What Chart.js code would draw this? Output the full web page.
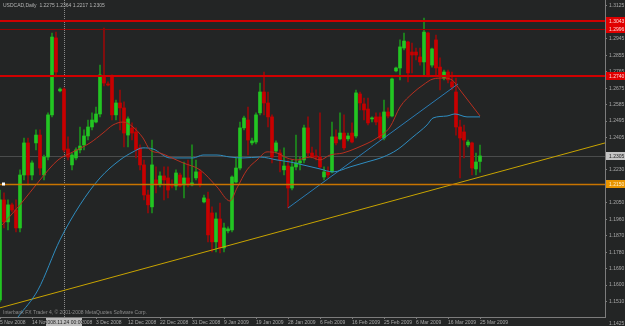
<!DOCTYPE html>
<html><head><meta charset="utf-8">
<script src="https://cdn.jsdelivr.net/npm/chart.js@4/dist/chart.umd.min.js"></script>
<style>html,body{margin:0;padding:0;background:#232525;overflow:hidden}canvas{display:block}</style>
</head><body>
<canvas id="c" width="625" height="326"></canvas>
<script>
const symbolTitle = 'USDCAD,Daily';
const copyrightText = 'Interbank FX Trader 4, \u00A9 2001-2008 MetaQuotes Software Corp.';

const opens = [1.1519,1.2065,1.1945,1.2038,1.2010,1.1912,1.2201,1.2376,1.2201,1.2376,
 1.2419,1.2201,1.2299,1.2529,1.2949,1.2660,1.2670,1.2343,1.2256,1.2294,
 1.2338,1.2365,1.2414,1.2463,1.2490,1.2534,1.2741,1.2698,1.2736,1.2529,
 1.2594,1.2567,1.2419,1.2458,1.2436,1.2349,1.2256,1.2092,1.2027,1.2174,
 1.2152,1.2196,1.2185,1.2147,1.2141,1.2201,1.2147,1.2185,1.2147,1.2185,
 1.2218,1.2054,1.2070,1.1994,1.1836,1.1961,1.1803,1.1896,1.1901,1.2163,
 1.2239,1.2458,1.2501,1.2376,1.2381,1.2540,1.2654,1.2594,1.2518,1.2332,
 1.2321,1.2229,1.2250,1.2130,1.2245,1.2267,1.2283,1.2458,1.2321,1.2305,
 1.2299,1.2190,1.2218,1.2218,1.2409,1.2398,1.2430,1.2398,1.2430,1.2414,
 1.2643,1.2589,1.2561,1.2507,1.2518,1.2518,1.2403,1.2545,1.2523,1.2769,
 1.2785,1.2894,1.2927,1.2872,1.2872,1.2845,1.2818,1.2976,1.2801,1.2938,
 1.2790,1.2730,1.2763,1.2709,1.2654,1.2463,1.2436,1.2365,1.2376,1.2234,
 1.2275];
const highs = [1.2119,1.2103,1.2065,1.2048,1.2065,1.2229,1.2403,1.2403,1.2278,1.2447,
 1.2447,1.2310,1.2540,1.2976,1.2981,1.2676,1.2676,1.2409,1.2321,1.2349,
 1.2463,1.2447,1.2501,1.2540,1.2572,1.2801,1.3003,1.2709,1.2747,1.2610,
 1.2665,1.2600,1.2518,1.2485,1.2458,1.2365,1.2283,1.2119,1.2392,1.2245,
 1.2218,1.2245,1.2245,1.2174,1.2229,1.2212,1.2272,1.2283,1.2365,1.2283,
 1.2229,1.2092,1.2108,1.2027,1.1994,1.2048,1.1939,1.1918,1.2196,1.2299,
 1.2490,1.2523,1.2572,1.2403,1.2540,1.2703,1.2763,1.2654,1.2529,1.2387,
 1.2338,1.2349,1.2283,1.2283,1.2419,1.2299,1.2474,1.2518,1.2354,1.2338,
 1.2540,1.2245,1.2245,1.2490,1.2447,1.2540,1.2529,1.2430,1.2485,1.2665,
 1.2654,1.2621,1.2621,1.2518,1.2540,1.2540,1.2610,1.2567,1.2730,1.2790,
 1.2938,1.2976,1.2932,1.2921,1.2894,1.2894,1.3058,1.2981,1.2894,1.2965,
 1.2840,1.2774,1.2774,1.2763,1.2730,1.2501,1.2474,1.2392,1.2381,1.2321,
 1.2364];
const lows = [1.1508,1.1912,1.1901,1.1999,1.1890,1.1890,1.2174,1.2147,1.2174,1.2338,
 1.2201,1.2174,1.2283,1.2518,1.2736,1.2654,1.2327,1.2283,1.2229,1.2283,
 1.2321,1.2338,1.2392,1.2447,1.2485,1.2518,1.2687,1.2687,1.2501,1.2501,
 1.2447,1.2354,1.2354,1.2392,1.2294,1.2229,1.2065,1.1994,1.1994,1.2103,
 1.2136,1.2065,1.2076,1.2130,1.2119,1.2136,1.2076,1.2136,1.2141,1.2174,
 1.2136,1.2048,1.1836,1.1781,1.1781,1.1776,1.1781,1.1885,1.1890,1.2158,
 1.2229,1.2447,1.2310,1.2365,1.2370,1.2529,1.2529,1.2463,1.2267,1.2321,
 1.2218,1.2201,1.2021,1.2119,1.2229,1.2229,1.2267,1.2299,1.2294,1.2283,
 1.2239,1.2174,1.2185,1.2212,1.2365,1.2392,1.2338,1.2387,1.2376,1.2403,
 1.2556,1.2501,1.2474,1.2490,1.2474,1.2392,1.2392,1.2512,1.2518,1.2763,
 1.2720,1.2883,1.2709,1.2758,1.2829,1.2801,1.2747,1.2736,1.2790,1.2736,
 1.2665,1.2720,1.2703,1.2665,1.2419,1.2185,1.2294,1.2354,1.2201,1.2201,
 1.2217];
const closes = [1.2065,1.1945,1.2038,1.2010,1.1912,1.2201,1.2376,1.2201,1.2267,1.2419,
 1.2239,1.2299,1.2529,1.2954,1.2763,1.2670,1.2338,1.2299,1.2310,1.2338,
 1.2359,1.2414,1.2463,1.2501,1.2534,1.2747,1.2703,1.2692,1.2529,1.2594,
 1.2567,1.2430,1.2507,1.2430,1.2338,1.2256,1.2092,1.2038,1.2256,1.2152,
 1.2196,1.2174,1.2119,1.2141,1.2212,1.2141,1.2185,1.2147,1.2158,1.2218,
 1.2147,1.2076,1.1874,1.1836,1.1961,1.1803,1.1912,1.1907,1.2190,1.2239,
 1.2458,1.2512,1.2392,1.2387,1.2529,1.2654,1.2594,1.2518,1.2299,1.2376,
 1.2283,1.2250,1.2130,1.2245,1.2267,1.2278,1.2458,1.2321,1.2299,1.2299,
 1.2245,1.2218,1.2201,1.2409,1.2376,1.2430,1.2349,1.2414,1.2381,1.2649,
 1.2594,1.2556,1.2485,1.2512,1.2490,1.2403,1.2545,1.2523,1.2725,1.2785,
 1.2900,1.2932,1.2758,1.2856,1.2856,1.2818,1.2981,1.2747,1.2889,1.2785,
 1.2747,1.2763,1.2720,1.2681,1.2463,1.2403,1.2392,1.2381,1.2239,1.2272,
 1.2305];

const redMaIdx = [0.5,5,10,14.5,18.25,22.5,25.75,28.25,30.75,33.25,35.75,37.5,40,42.5,45.75,50,54.25,57.5,59.25,61.75,64.25,66.75,69.25,71.75,74.25,77.5,80,82.5,85.75,89.25,94.25,97.5,100,103.25,105.75,108.25,110.75,113,115,117.5,120];
const redMaVals = [1.1928,1.2038,1.2174,1.2283,1.2327,1.2376,1.2430,1.2474,1.2490,1.2463,1.2403,1.2338,1.2321,1.2299,1.2267,1.2229,1.2136,1.2059,1.2130,1.2229,1.2283,1.2327,1.2321,1.2294,1.2283,1.2299,1.2283,1.2310,1.2321,1.2349,1.2403,1.2463,1.2572,1.2649,1.2692,1.2725,1.2730,1.2720,1.2665,1.2594,1.2523];
const blueMaIdx = [4.5,9.5,15,20,25,30,33.25,35.75,38.25,42.5,48.25,50.75,54.25,57.5,60.75,65,69.25,72.5,75.75,80,83.25,87.5,91.75,95.75,99.25,103.25,106.75,108.25,111.75,113.75,116.75,120];
const blueMaVals = [1.1426,1.1574,1.1847,1.2038,1.2185,1.2283,1.2327,1.2349,1.2343,1.2294,1.2294,1.2310,1.2310,1.2299,1.2294,1.2299,1.2283,1.2272,1.2256,1.2234,1.2218,1.2245,1.2272,1.2299,1.2338,1.2409,1.2474,1.2512,1.2523,1.2534,1.2518,1.2518];

const trendIdx = [0, 151.25];
const trendVals = [1.1476, 1.2376];
const blueTrendIdx = [72, 114.5];
const blueTrendVals = [1.2021, 1.2698];

const redLevels = [1.3043, 1.2996, 1.2740];
const supportLevel = 1.2150;

const xTickIdx = [0,8,16,24,32,40,48,56,64,72,80,88,96,104,112,120];
const xTickLabels = ['5 Nov 2008','14 Nov 2008','24 Nov 2008','3 Dec 2008','12 Dec 2008','22 Dec 2008','31 Dec 2008','9 Jan 2009','19 Jan 2009','28 Jan 2009','6 Feb 2009','16 Feb 2009','25 Feb 2009','6 Mar 2009','16 Mar 2009','25 Mar 2009'];
const yTickValues = [1.3125,1.2945,1.2855,1.2765,1.2675,1.2585,1.2495,1.2405,1.2230,1.2050,1.1960,1.1870,1.1780,1.1690,1.1600,1.1510];
const yTickLabels = ['1.3125','1.2945','1.2855','1.2765','1.2675','1.2585','1.2495','1.2405','1.2230','1.2050','1.1960','1.1870','1.1780','1.1690','1.1600','1.1510'];
const bottomPriceLabel = '1.1425';
const crosshairIdx = 16;
const crosshairLabel = '2008.11.24 00:00';

const FONT = '"Liberation Sans", Arial, sans-serif';
const n = opens.length;
const up = opens.map((o, i) => closes[i] >= o);
const wickData = opens.map((_, i) => ({x: i, y: [lows[i], highs[i]]}));
const bodyData = opens.map((_, i) => ({x: i, y: [opens[i], closes[i]]}));
const pts = (xs, ys) => xs.map((v, i) => ({x: v, y: ys[i]}));

const overlay = {
  id: 'overlay',
  beforeDatasetsDraw(chart) {
    const {ctx, chartArea: a, scales: {x, y}} = chart;
    ctx.save();
    const py = Math.round(y.getPixelForValue(closes[n - 1])) + 0.5;
    ctx.strokeStyle = '#4a4c4c'; ctx.lineWidth = 1;
    ctx.beginPath(); ctx.moveTo(a.left, py); ctx.lineTo(a.right, py); ctx.stroke();
    const cx = Math.round(x.getPixelForValue(crosshairIdx)) + 0.5;
    ctx.strokeStyle = '#8a8a8a'; ctx.setLineDash([1, 1]);
    ctx.beginPath(); ctx.moveTo(cx, 0); ctx.lineTo(cx, a.bottom); ctx.stroke();
    ctx.restore();
  },
  afterDatasetsDraw(chart) {
    const {ctx, chartArea: a, scales: {y}} = chart;
    ctx.save();
    redLevels.forEach((lv, i) => {
      const thin = i === 1;
      const py = Math.round(y.getPixelForValue(lv));
      ctx.strokeStyle = thin ? '#9a0000' : '#d00000';
      ctx.lineWidth = thin ? 1 : 2;
      const yy = thin ? py + 0.5 : py;
      ctx.beginPath(); ctx.moveTo(a.left, yy); ctx.lineTo(a.right, yy); ctx.stroke();
    });
    const oy = Math.round(y.getPixelForValue(supportLevel)) + 0.5;
    ctx.strokeStyle = '#c87400'; ctx.lineWidth = 1.5;
    ctx.beginPath(); ctx.moveTo(a.left, oy); ctx.lineTo(a.right, oy); ctx.stroke();
    ctx.fillStyle = '#ffffff';
    ctx.fillRect(a.left + 2, oy - 2, 3, 3);
    ctx.restore();
  },
  afterDraw(chart) {
    const {ctx, chartArea: a, scales: {x, y}} = chart;
    ctx.save();
    ctx.font = '5px ' + FONT;
    ctx.textBaseline = 'middle';
    ctx.textAlign = 'left';
    const tag = (val, txt, bg, fg) => {
      const py = Math.round(y.getPixelForValue(val));
      ctx.fillStyle = bg; ctx.fillRect(a.right + 1, py - 4, 19, 8);
      ctx.fillStyle = fg; ctx.fillText(txt, a.right + 4, py + 0.5);
    };
    redLevels.forEach(lv => tag(lv, lv.toFixed(4), '#e00000', '#ffd8d8'));
    tag(closes[n - 1], closes[n - 1].toFixed(4), '#c4c4c4', '#202020');
    tag(supportLevel, supportLevel.toFixed(4), '#e89400', '#fff0c8');
    ctx.fillStyle = '#a8a8a8';
    ctx.fillText(bottomPriceLabel, a.right + 4, 323.5);
    ctx.fillStyle = '#b4b4b4';
    const hdr = symbolTitle + '  ' + [opens[n-1], highs[n-1], lows[n-1], closes[n-1]].map(v => v.toFixed(4)).join(' ');
    ctx.fillText(hdr, a.left + 3, 6);
    ctx.fillStyle = '#8c8c8c';
    ctx.fillText(copyrightText, a.left + 3, 313);
    const cx = x.getPixelForValue(crosshairIdx);
    ctx.fillStyle = '#bcbcbc';
    ctx.fillRect(cx - 18, a.bottom + 1, 36, 8);
    ctx.fillStyle = '#1e1e1e';
    ctx.textAlign = 'center';
    ctx.fillText(crosshairLabel, cx, a.bottom + 5.5);
    ctx.restore();
  }
};

const noPad = s => { s.paddingTop = 0; s.paddingBottom = 0; s.paddingLeft = 0; s.paddingRight = 0; };

new Chart(document.getElementById('c'), {
  type: 'bar',
  data: {
    datasets: [
      {type: 'line', label: 'MA fast', data: pts(redMaIdx, redMaVals), borderColor: '#b83020', borderWidth: 1, pointRadius: 0, cubicInterpolationMode: 'monotone', order: 0},
      {type: 'line', label: 'MA slow', data: pts(blueMaIdx, blueMaVals), borderColor: '#2f8dc0', borderWidth: 1, pointRadius: 0, cubicInterpolationMode: 'monotone', order: 0},
      {type: 'line', label: 'Trend', data: pts(trendIdx, trendVals), borderColor: '#c8a400', borderWidth: 1, pointRadius: 0, order: 0},
      {type: 'line', label: 'Trend 2', data: pts(blueTrendIdx, blueTrendVals), borderColor: '#2a7cb4', borderWidth: 1, pointRadius: 0, order: 0},
      {label: 'Wicks', data: wickData, backgroundColor: up.map(u => u ? '#1c8e1c' : '#940a0a'), barThickness: 1, grouped: false, order: 2},
      {label: 'Bodies', data: bodyData, backgroundColor: up.map(u => u ? '#22c622' : '#c80000'), barThickness: 3, minBarLength: 1, grouped: false, order: 1}
    ]
  },
  options: {
    responsive: false,
    animation: false,
    events: [],
    layout: {padding: 0},
    plugins: {legend: {display: false}, tooltip: {enabled: false}},
    scales: {
      x: {
        type: 'linear', min: 0, max: 151.25, offset: false,
        afterBuildTicks: s => { s.ticks = xTickIdx.map(v => ({value: v})); },
        afterFit: s => { s.height = 9; noPad(s); },
        ticks: {callback: v => { const k = xTickIdx.indexOf(v); return k >= 0 ? xTickLabels[k] : ''; },
          align: 'start', maxRotation: 0, minRotation: 0, autoSkip: false, color: '#a8a8a8', font: {family: FONT, size: 5}, padding: 1},
        grid: {display: true, drawOnChartArea: false, tickLength: 2, color: '#7c7c7c', offset: false},
        border: {display: true, color: '#7c7c7c'}
      },
      y: {
        type: 'linear', position: 'right', min: 1.1426, max: 1.3156,
        afterBuildTicks: s => { s.ticks = yTickValues.map(v => ({value: v})); },
        afterFit: s => { s.width = 20; noPad(s); },
        ticks: {callback: v => { const k = yTickValues.indexOf(v); return k >= 0 ? yTickLabels[k] : ''; },
          autoSkip: false, color: '#a8a8a8', font: {family: FONT, size: 5}, padding: 2},
        grid: {display: true, drawOnChartArea: false, tickLength: 2, color: '#7c7c7c'},
        border: {display: true, color: '#7c7c7c'}
      }
    }
  },
  plugins: [overlay]
});
</script>
</body></html>
